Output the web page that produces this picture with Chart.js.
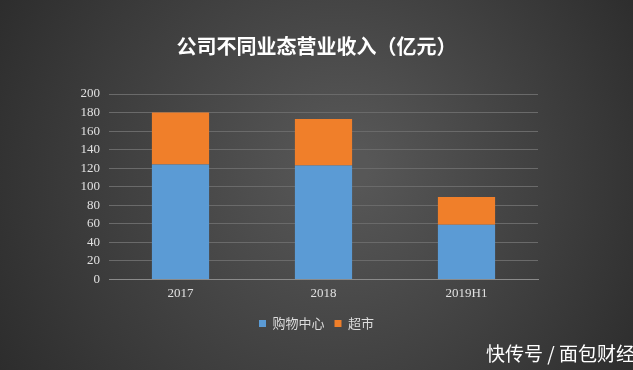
<!DOCTYPE html>
<html>
<head>
<meta charset="utf-8">
<script src="https://cdn.jsdelivr.net/npm/chart.js@4/dist/chart.umd.min.js"></script>
<style>
    html, body { margin: 0; padding: 0; background: #2b2b2b; }
    #wrap { position: relative; width: 633px; height: 370px; overflow: hidden; }
    #mark {
        position: absolute; right: -2px; bottom: 4px;
        font: 19px "Noto Sans CJK SC", sans-serif; color: #fff;
    }
</style>
</head>
<body>
<div id="wrap">
    <canvas id="chart" width="633" height="370"></canvas>
    <div id="mark">快传号 / 面包财经</div>
</div>
<script>
const categories = ['2017', '2018', '2019H1'];
const mallValues = [124, 123, 59];
const marketValues = [56, 50, 30];
const seriesNames = ['购物中心', '超市'];
const chartColors = ['#5b9bd5', '#f07f2a'];

const bgPlugin = {
    id: 'bg',
    beforeDraw(chart) {
        const ctx = chart.ctx;
        const w = chart.width, h = chart.height;
        const g = ctx.createRadialGradient(w * 0.55, h * 0.45, 20, w * 0.5, h * 0.5, w * 0.62);
        g.addColorStop(0, '#575757');
        g.addColorStop(1, '#2a2a2a');
        ctx.save();
        ctx.fillStyle = g;
        ctx.fillRect(0, 0, w, h);
        ctx.restore();
    }
};

const ctx = document.getElementById('chart').getContext('2d');
new Chart(ctx, {
    type: 'bar',
    data: {
        labels: categories,
        datasets: [
            { label: seriesNames[0], data: mallValues, backgroundColor: chartColors[0], barPercentage: 0.5, categoryPercentage: 0.8 },
            { label: seriesNames[1], data: marketValues, backgroundColor: chartColors[1], barPercentage: 0.5, categoryPercentage: 0.8 }
        ]
    },
    options: {
        responsive: false,
        animation: false,
        layout: {
            padding: { left: 0, right: 0, top: 0, bottom: 30 }
        },
        plugins: {
            title: {
                display: true,
                text: '公司不同业态营业收入（亿元）',
                color: '#ffffff',
                font: { family: '"Noto Sans CJK SC"', size: 20, weight: 'bold' },
                padding: { top: 34, bottom: 36 }
            },
            legend: {
                display: true,
                position: 'bottom',
                labels: {
                    color: '#dddddd',
                    boxWidth: 7,
                    boxHeight: 7,
                    padding: 10,
                    font: { family: '"Noto Sans CJK SC"', size: 13 }
                }
            },
            tooltip: { enabled: false }
        },
        scales: {
            x: {
                stacked: true,
                grid: { display: false, drawTicks: false },
                border: { color: '#8a8a8a' },
                ticks: {
                    color: '#e0e0e0',
                    padding: 6,
                    font: { family: '"Liberation Serif"', size: 13 }
                }
            },
            y: {
                stacked: true,
                min: 0,
                max: 200,
                grid: { color: '#6a6a6a', drawTicks: false },
                border: { display: false },
                afterFit: function(scale) { scale.width = 109; },
                ticks: {
                    stepSize: 20,
                    autoSkip: false,
                    color: '#e0e0e0',
                    padding: 9,
                    font: { family: '"Liberation Serif"', size: 13 }
                }
            },
            yRight: {
                position: 'right',
                grid: { display: false, drawTicks: false },
                border: { display: false },
                ticks: { display: false },
                afterFit: function(scale) { scale.width = 95; }
            }
        }
    },
    plugins: [bgPlugin]
});
</script>
</body>
</html>
